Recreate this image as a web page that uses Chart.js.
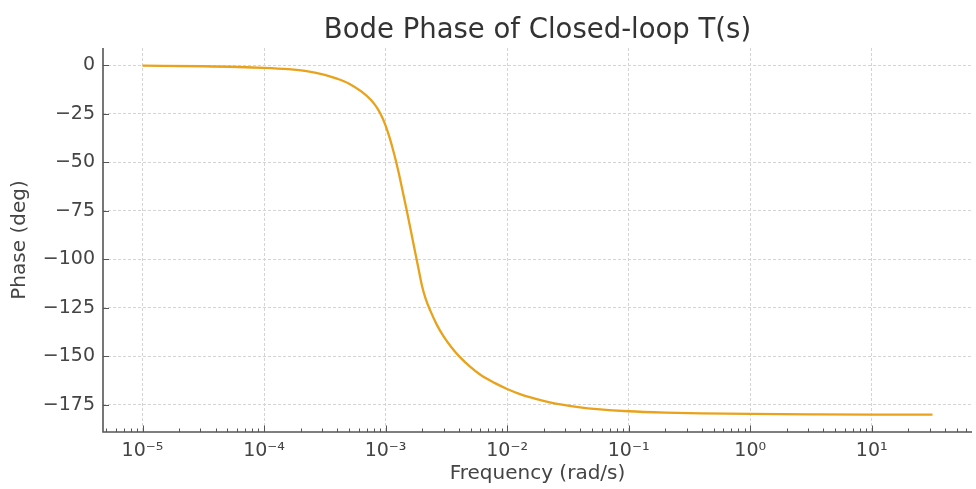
<!DOCTYPE html>
<html>
<head>
<meta charset="utf-8">
<script src="https://cdn.jsdelivr.net/npm/chart.js@4.4.1/dist/chart.umd.min.js"></script>
<style>
  html, body { margin: 0; padding: 0; background: #fff; }
  #wrap { width: 976px; height: 489px; }
</style>
</head>
<body>
<div id="wrap"><canvas id="phase-chart"></canvas></div>
<script>
// frequency (rad/s) and phase (deg)
const frequencies = [
    1e-5, 3.162e-5, 1e-4, 1.585e-4, 2.239e-4, 3.162e-4, 3.981e-4, 5.012e-4, 6.310e-4, 7.586e-4,
    8.128e-4, 8.710e-4, 9.333e-4, 1e-3, 1.0715e-3, 1.148e-3, 1.208e-3, 1.288e-3, 1.371e-3, 1.479e-3,
    1.607e-3, 1.750e-3, 1.884e-3, 2.004e-3, 2.138e-3, 2.344e-3, 2.630e-3, 3.020e-3, 3.467e-3, 3.981e-3,
    5.012e-3, 6.026e-3, 7.943e-3, 1e-2, 1.259e-2, 1.585e-2, 1.995e-2, 2.754e-2, 3.981e-2, 5.495e-2,
    0.1, 0.1995, 0.3981, 1, 3.162, 10, 31.62
];
const phaseDeg = [
    -0.1, -0.4, -1.2, -1.9, -2.9, -4.8, -6.8, -9.4, -13.4, -17.8,
    -20.1, -22.9, -26.5, -31, -36.6, -43.2, -48.5, -55.9, -63.8, -73.5,
    -84.6, -96.2, -106.1, -114.2, -120.3, -126.7, -133.5, -140, -145.2, -149.6,
    -155.6, -159.5, -163.8, -166.8, -169.3, -171.3, -172.9, -174.8, -176.3, -177.2,
    -178.3, -179, -179.4, -179.7, -179.9, -180, -180
];
const xDecades = [1e-5, 1e-4, 1e-3, 1e-2, 1e-1, 1, 10];
const xTickLabels = ['10\u207B\u2075', '10\u207B\u2074', '10\u207B\u00B3', '10\u207B\u00B2', '10\u207B\u00B9', '10\u2070', '10\u00B9'];
const yTicks = [0, -25, -50, -75, -100, -125, -150, -175];

const xMin = Math.pow(10, -5.325);
const xMax = Math.pow(10, 1.825);
const axisColor = '#555';
const textColor = '#444';

// matplotlib style: tick marks pointing into the plot
const inwardTicks = {
    id: 'inwardTicks',
    afterDatasetsDraw(chart) {
        const { ctx, chartArea, scales } = chart;
        ctx.save();
        ctx.strokeStyle = axisColor;
        ctx.lineWidth = 1;
        ctx.beginPath();
        yTicks.forEach(v => {
            const y = Math.round(scales.y.getPixelForValue(v)) + 0.5;
            ctx.moveTo(chartArea.left, y);
            ctx.lineTo(chartArea.left + 6, y);
        });
        for (let e = -6; e <= 2; e++) {
            for (let m = 1; m <= 9; m++) {
                const v = m * Math.pow(10, e);
                if (v < xMin || v > xMax) continue;
                const x = Math.round(scales.x.getPixelForValue(v)) + 0.5;
                const len = m === 1 ? 6.5 : 3.5;
                ctx.moveTo(x, chartArea.bottom);
                ctx.lineTo(x, chartArea.bottom - len);
            }
        }
        ctx.stroke();
        // left and bottom spines
        ctx.lineWidth = 1.6;
        ctx.beginPath();
        ctx.moveTo(chartArea.left, chartArea.top);
        ctx.lineTo(chartArea.left, chartArea.bottom);
        ctx.lineTo(chartArea.right, chartArea.bottom);
        ctx.stroke();
        ctx.restore();
    }
};

new Chart(document.getElementById('phase-chart'), {
    type: 'line',
    data: {
        datasets: [{
            data: frequencies.map((f, i) => ({ x: f, y: phaseDeg[i] })),
            borderColor: '#E8A21C',
            borderWidth: 2.3,
            pointRadius: 0,
            cubicInterpolationMode: 'monotone',
            fill: false
        }]
    },
    options: {
        responsive: true,
        maintainAspectRatio: false,
        animation: false,
        layout: { padding: { left: 0, right: 4, top: 0, bottom: 0 } },
        plugins: {
            legend: { display: false },
            tooltip: { enabled: false },
            title: {
                display: true,
                text: 'Bode Phase of Closed-loop T(s)',
                fullSize: false,
                color: '#333',
                font: { family: 'DejaVu Sans', size: 27.5, weight: 'normal' },
                padding: { top: 14.5, bottom: 0.5 }
            }
        },
        scales: {
            x: {
                type: 'logarithmic',
                min: xMin,
                max: xMax,
                afterBuildTicks: scale => {
                    scale.ticks = xDecades.map(v => ({ value: v }));
                },
                afterFit: scale => { scale.height = 57; },
                ticks: {
                    autoSkip: false,
                    maxRotation: 0,
                    color: textColor,
                    padding: 8,
                    font: { family: 'DejaVu Sans', size: 19 },
                    callback: (value) => {
                        const i = xDecades.findIndex(d => Math.abs(d - value) / d < 1e-6);
                        return i >= 0 ? xTickLabels[i] : '';
                    }
                },
                grid: {
                    color: '#d4d4d4',
                    lineWidth: 1,
                    drawTicks: false
                },
                border: { display: false, dash: [3, 2] },
                title: {
                    display: true,
                    text: 'Frequency (rad/s)',
                    color: textColor,
                    font: { family: 'DejaVu Sans', size: 20 },
                    padding: { top: 0, bottom: 3 }
                }
            },
            y: {
                min: -189,
                max: 9,
                afterBuildTicks: scale => {
                    scale.ticks = yTicks.map(v => ({ value: v }));
                },
                afterFit: scale => { scale.width = 103; },
                ticks: {
                    color: textColor,
                    padding: 8,
                    font: { family: 'DejaVu Sans', size: 19 },
                    callback: v => (v < 0 ? '\u2212' + Math.abs(v) : String(v))
                },
                grid: {
                    color: '#d4d4d4',
                    lineWidth: 1,
                    drawTicks: false
                },
                border: { display: false, dash: [3, 2] },
                title: {
                    display: true,
                    text: 'Phase (deg)',
                    color: textColor,
                    font: { family: 'DejaVu Sans', size: 20 },
                    padding: { top: 7.5, bottom: 0 }
                }
            }
        }
    },
    plugins: [inwardTicks]
});
</script>
</body>
</html>
